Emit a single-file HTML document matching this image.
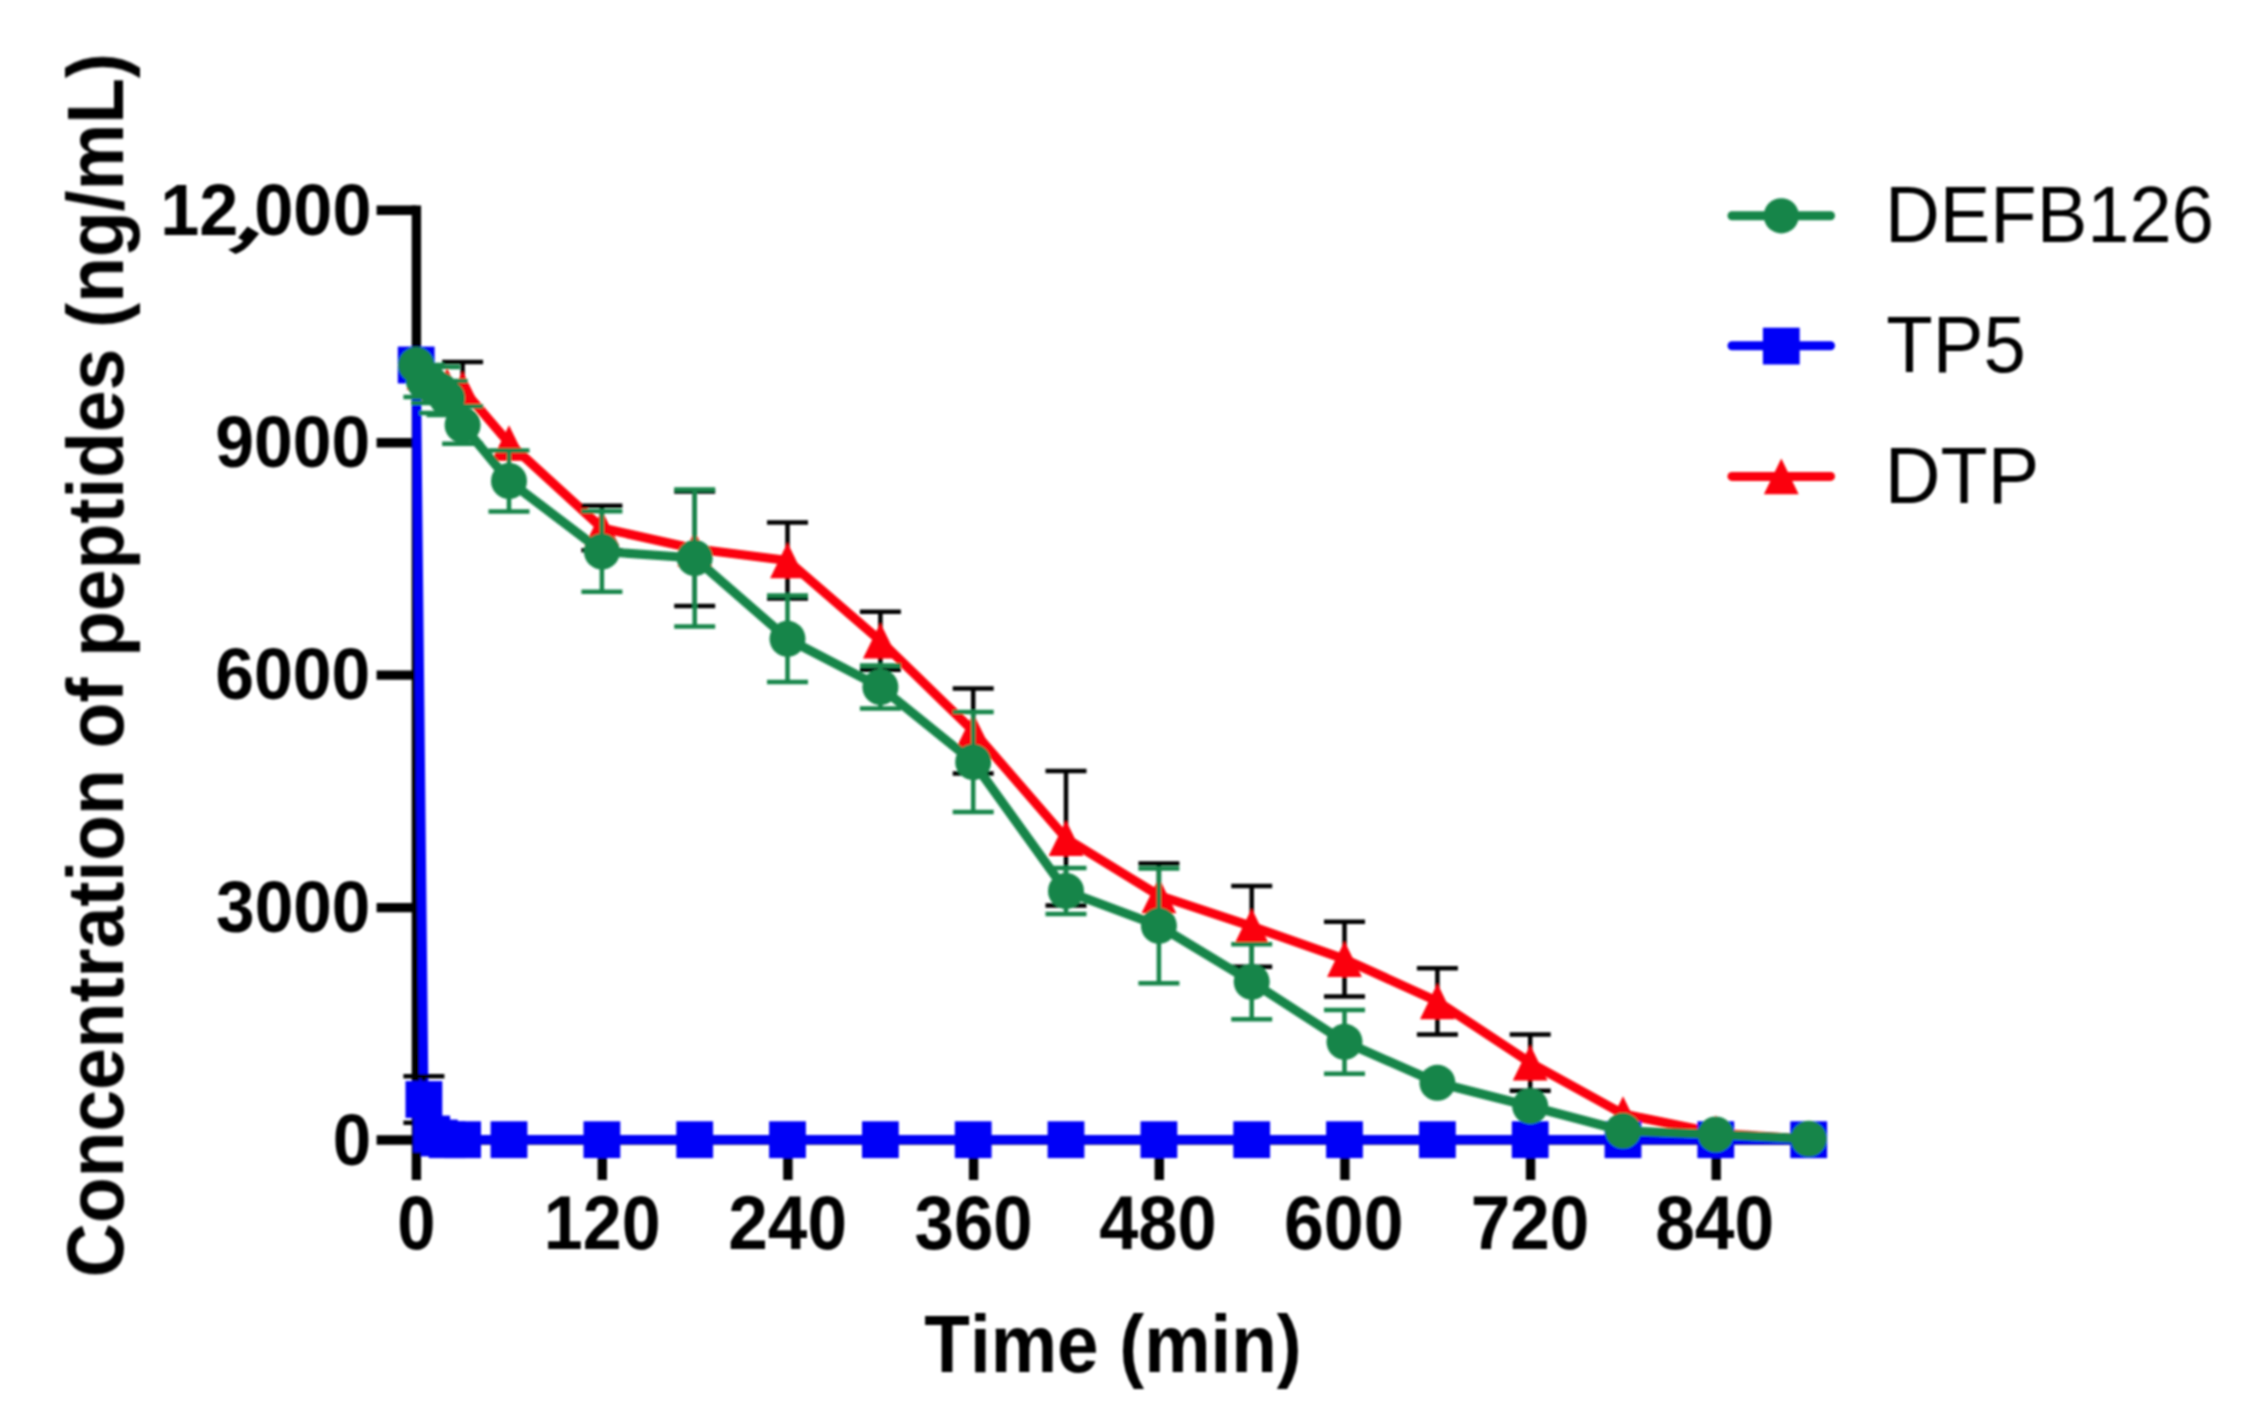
<!DOCTYPE html>
<html lang="en"><head><meta charset="utf-8"><title>Peptide concentration over time</title>
<style>html,body{margin:0;padding:0;background:#fff}body{width:2248px;height:1413px;overflow:hidden}svg{display:block}</style>
</head><body>
<svg width="2248" height="1413" viewBox="0 0 2248 1413" font-family="'Liberation Sans', Arial, sans-serif" style="font-kerning:none">
<rect width="2248" height="1413" fill="#fff"/>
<g filter="url(#soft)">
<g stroke="#000" stroke-width="9.4" fill="none">
<path d="M416.4 205.6V1180"/>
<path d="M411.7 1140.0H1808.7"/>
<path d="M376.6 1140.0H416.4"/>
<path d="M376.6 907.6H416.4"/>
<path d="M376.6 675.1H416.4"/>
<path d="M376.6 442.7H416.4"/>
<path d="M376.6 210.3H416.4"/>
<path d="M602.3 1139.7V1180"/>
<path d="M787.9 1139.7V1180"/>
<path d="M973.6 1139.7V1180"/>
<path d="M1159.3 1139.7V1180"/>
<path d="M1344.9 1139.7V1180"/>
<path d="M1530.6 1139.7V1180"/>
<path d="M1716.2 1139.7V1180"/>
</g>
<g fill="#000">
<text transform="translate(160.17,234.59) scale(0.70304,0.72881)" font-size="100" font-weight="bold">12<tspan font-size="135" font-style="italic" rotate="30" dx="-3" dy="3">,</tspan><tspan rotate="0" dx="-12" dy="-3">000</tspan></text>
<text transform="translate(215.28,467.49) scale(0.69709,0.72457)" font-size="100" font-weight="bold">9000</text>
<text transform="translate(215.14,699.49) scale(0.69773,0.72457)" font-size="100" font-weight="bold">6000</text>
<text transform="translate(216.11,931.99) scale(0.69331,0.72457)" font-size="100" font-weight="bold">3000</text>
<text transform="translate(332.86,1164.79) scale(0.69178,0.72881)" font-size="100" font-weight="bold">0</text>
<text transform="translate(397.28,1249.36) scale(0.68757,0.75282)" font-size="100" font-weight="bold">0</text>
<text transform="translate(543.79,1249.36) scale(0.69993,0.75282)" font-size="100" font-weight="bold">120</text>
<text transform="translate(728.23,1249.36) scale(0.71197,0.75282)" font-size="100" font-weight="bold">240</text>
<text transform="translate(914.58,1249.36) scale(0.70677,0.75282)" font-size="100" font-weight="bold">360</text>
<text transform="translate(1099.23,1249.36) scale(0.70396,0.75282)" font-size="100" font-weight="bold">480</text>
<text transform="translate(1284.08,1249.36) scale(0.71535,0.75282)" font-size="100" font-weight="bold">600</text>
<text transform="translate(1470.85,1249.36) scale(0.71002,0.75282)" font-size="100" font-weight="bold">720</text>
<text transform="translate(1655.14,1249.36) scale(0.71317,0.75282)" font-size="100" font-weight="bold">840</text>
<text transform="translate(924.36,1371.60) scale(0.74640,0.81542)" font-size="100" font-weight="bold">Time (min)</text>
<text transform="rotate(-90) translate(-1277.38,122.90) scale(0.74974,0.80089)" font-size="100" font-weight="bold">Concentration of peptides (ng/mL)</text>
<text transform="translate(1884.98,242.00) scale(0.75876,0.79943)" font-size="100" font-weight="normal">DEFB126</text>
<text transform="translate(1886.29,372.10) scale(0.76065,0.80379)" font-size="100" font-weight="normal">TP5</text>
<text transform="translate(1884.87,502.50) scale(0.77202,0.79071)" font-size="100" font-weight="normal">DTP</text>
</g>
<polyline points="416.2,365.0 423.9,372.0 431.7,378.0 439.4,383.0 447.1,386.0 462.6,389.0 509.0,443.0 601.9,528.0 694.7,548.8 787.5,560.5 880.4,640.7 973.2,731.0 1066.0,838.3 1158.9,895.5 1251.7,926.4 1344.5,959.1 1437.4,1001.4 1530.2,1062.7 1623.0,1114.0 1715.8,1133.0 1808.7,1139.3" stroke="#fb0308" stroke-width="9.2" fill="none" stroke-linejoin="round"/>
<path d="M462.6 362.0V389.0M442.1 362.0H483.1M601.9 505.7V550.3M581.4 505.7H622.4M581.4 550.3H622.4M694.7 491.5V606.1M674.2 491.5H715.2M674.2 606.1H715.2M787.5 522.5V598.5M767.0 522.5H808.0M767.0 598.5H808.0M880.4 611.7V669.7M859.9 611.7H900.9M859.9 669.7H900.9M973.2 688.4V773.6M952.7 688.4H993.7M952.7 773.6H993.7M1066.0 771.1V905.5M1045.5 771.1H1086.5M1045.5 905.5H1086.5M1158.9 863.5V895.5M1138.4 863.5H1179.4M1251.7 886.0V966.8M1231.2 886.0H1272.2M1231.2 966.8H1272.2M1344.5 921.8V996.4M1324.0 921.8H1365.0M1324.0 996.4H1365.0M1437.4 968.2V1034.6M1416.9 968.2H1457.9M1416.9 1034.6H1457.9M1530.2 1034.6V1090.8M1509.7 1034.6H1550.7M1509.7 1090.8H1550.7" stroke="#000" stroke-width="4.5" fill="none"/>
<path d="M416.2 347.2L433.6 382.8H398.8Z" fill="#fb0308"/>
<path d="M423.9 354.2L441.3 389.8H406.5Z" fill="#fb0308"/>
<path d="M431.7 360.2L449.1 395.8H414.3Z" fill="#fb0308"/>
<path d="M439.4 365.2L456.8 400.8H422.0Z" fill="#fb0308"/>
<path d="M447.1 368.2L464.5 403.8H429.7Z" fill="#fb0308"/>
<path d="M462.6 371.2L480.0 406.8H445.2Z" fill="#fb0308"/>
<path d="M509.0 425.2L526.4 460.8H491.6Z" fill="#fb0308"/>
<path d="M601.9 510.2L619.3 545.8H584.5Z" fill="#fb0308"/>
<path d="M694.7 531.0L712.1 566.6H677.3Z" fill="#fb0308"/>
<path d="M787.5 542.7L804.9 578.3H770.1Z" fill="#fb0308"/>
<path d="M880.4 622.9L897.8 658.5H863.0Z" fill="#fb0308"/>
<path d="M973.2 713.2L990.6 748.8H955.8Z" fill="#fb0308"/>
<path d="M1066.0 820.5L1083.4 856.1H1048.6Z" fill="#fb0308"/>
<path d="M1158.9 877.7L1176.3 913.3H1141.5Z" fill="#fb0308"/>
<path d="M1251.7 908.6L1269.1 944.2H1234.3Z" fill="#fb0308"/>
<path d="M1344.5 941.3L1361.9 976.9H1327.1Z" fill="#fb0308"/>
<path d="M1437.4 983.6L1454.8 1019.2H1420.0Z" fill="#fb0308"/>
<path d="M1530.2 1044.9L1547.6 1080.5H1512.8Z" fill="#fb0308"/>
<path d="M1623.0 1096.2L1640.4 1131.8H1605.6Z" fill="#fb0308"/>
<path d="M1715.8 1115.2L1733.2 1150.8H1698.4Z" fill="#fb0308"/>
<path d="M1808.7 1121.5L1826.1 1157.1H1791.3Z" fill="#fb0308"/>
<polyline points="416.2,365.0 423.9,1099.5 431.7,1134.0 439.4,1138.0 447.1,1139.7 462.6,1139.7 509.0,1139.7 601.9,1139.7 694.7,1139.7 787.5,1139.7 880.4,1139.7 973.2,1139.7 1066.0,1139.7 1158.9,1139.7 1251.7,1139.7 1344.5,1139.7 1437.4,1139.7 1530.2,1139.7 1623.0,1139.7 1715.8,1139.7 1808.7,1139.7" stroke="#0600f7" stroke-width="9.2" fill="none" stroke-linejoin="round"/>
<path d="M423.9 1076.2V1122.8M403.4 1076.2H444.4M403.4 1122.8H444.4" stroke="#000" stroke-width="4.5" fill="none"/>
<rect x="397.8" y="346.6" width="36.8" height="36.8" fill="#0600f7"/>
<rect x="405.5" y="1081.1" width="36.8" height="36.8" fill="#0600f7"/>
<rect x="413.3" y="1115.6" width="36.8" height="36.8" fill="#0600f7"/>
<rect x="421.0" y="1119.6" width="36.8" height="36.8" fill="#0600f7"/>
<rect x="428.7" y="1121.3" width="36.8" height="36.8" fill="#0600f7"/>
<rect x="444.2" y="1121.3" width="36.8" height="36.8" fill="#0600f7"/>
<rect x="490.6" y="1121.3" width="36.8" height="36.8" fill="#0600f7"/>
<rect x="583.5" y="1121.3" width="36.8" height="36.8" fill="#0600f7"/>
<rect x="676.3" y="1121.3" width="36.8" height="36.8" fill="#0600f7"/>
<rect x="769.1" y="1121.3" width="36.8" height="36.8" fill="#0600f7"/>
<rect x="862.0" y="1121.3" width="36.8" height="36.8" fill="#0600f7"/>
<rect x="954.8" y="1121.3" width="36.8" height="36.8" fill="#0600f7"/>
<rect x="1047.6" y="1121.3" width="36.8" height="36.8" fill="#0600f7"/>
<rect x="1140.5" y="1121.3" width="36.8" height="36.8" fill="#0600f7"/>
<rect x="1233.3" y="1121.3" width="36.8" height="36.8" fill="#0600f7"/>
<rect x="1326.1" y="1121.3" width="36.8" height="36.8" fill="#0600f7"/>
<rect x="1419.0" y="1121.3" width="36.8" height="36.8" fill="#0600f7"/>
<rect x="1511.8" y="1121.3" width="36.8" height="36.8" fill="#0600f7"/>
<rect x="1604.6" y="1121.3" width="36.8" height="36.8" fill="#0600f7"/>
<rect x="1697.4" y="1121.3" width="36.8" height="36.8" fill="#0600f7"/>
<rect x="1790.3" y="1121.3" width="36.8" height="36.8" fill="#0600f7"/>
<polyline points="416.2,365.0 423.9,381.0 431.7,385.0 439.4,390.0 447.1,398.0 462.6,425.0 509.0,481.0 601.9,551.5 694.7,558.0 787.5,638.8 880.4,687.0 973.2,762.0 1066.0,891.0 1158.9,925.8 1251.7,981.8 1344.5,1041.8 1437.4,1082.8 1530.2,1106.2 1623.0,1130.8 1715.8,1134.5 1808.7,1138.8" stroke="#17854a" stroke-width="9.2" fill="none" stroke-linejoin="round"/>
<path d="M423.9 365.0V397.0M403.4 365.0H444.4M403.4 397.0H444.4M431.7 367.0V403.0M411.2 367.0H452.2M411.2 403.0H452.2M439.4 367.0V413.0M418.9 367.0H459.9M418.9 413.0H459.9M447.1 381.0V415.0M426.6 381.0H467.6M426.6 415.0H467.6M462.6 406.2V443.8M442.1 406.2H483.1M442.1 443.8H483.1M509.0 450.5V511.5M488.5 450.5H529.5M488.5 511.5H529.5M601.9 511.2V591.8M581.4 511.2H622.4M581.4 591.8H622.4M694.7 489.5V626.5M674.2 489.5H715.2M674.2 626.5H715.2M787.5 595.5V682.1M767.0 595.5H808.0M767.0 682.1H808.0M880.4 665.5V708.5M859.9 665.5H900.9M859.9 708.5H900.9M973.2 712.0V812.0M952.7 712.0H993.7M952.7 812.0H993.7M1066.0 867.9V914.1M1045.5 867.9H1086.5M1045.5 914.1H1086.5M1158.9 868.4V983.2M1138.4 868.4H1179.4M1138.4 983.2H1179.4M1251.7 944.3V1019.3M1231.2 944.3H1272.2M1231.2 1019.3H1272.2M1344.5 1009.9V1073.7M1324.0 1009.9H1365.0M1324.0 1073.7H1365.0" stroke="#17854a" stroke-width="4.5" fill="none"/>
<circle cx="416.2" cy="365.0" r="18" fill="#17854a"/>
<circle cx="423.9" cy="381.0" r="18" fill="#17854a"/>
<circle cx="431.7" cy="385.0" r="18" fill="#17854a"/>
<circle cx="439.4" cy="390.0" r="18" fill="#17854a"/>
<circle cx="447.1" cy="398.0" r="18" fill="#17854a"/>
<circle cx="462.6" cy="425.0" r="18" fill="#17854a"/>
<circle cx="509.0" cy="481.0" r="18" fill="#17854a"/>
<circle cx="601.9" cy="551.5" r="18" fill="#17854a"/>
<circle cx="694.7" cy="558.0" r="18" fill="#17854a"/>
<circle cx="787.5" cy="638.8" r="18" fill="#17854a"/>
<circle cx="880.4" cy="687.0" r="18" fill="#17854a"/>
<circle cx="973.2" cy="762.0" r="18" fill="#17854a"/>
<circle cx="1066.0" cy="891.0" r="18" fill="#17854a"/>
<circle cx="1158.9" cy="925.8" r="18" fill="#17854a"/>
<circle cx="1251.7" cy="981.8" r="18" fill="#17854a"/>
<circle cx="1344.5" cy="1041.8" r="18" fill="#17854a"/>
<circle cx="1437.4" cy="1082.8" r="18" fill="#17854a"/>
<circle cx="1530.2" cy="1106.2" r="18" fill="#17854a"/>
<circle cx="1623.0" cy="1130.8" r="18" fill="#17854a"/>
<circle cx="1715.8" cy="1134.5" r="18" fill="#17854a"/>
<circle cx="1808.7" cy="1138.8" r="18" fill="#17854a"/>
<path d="M1732 215.8H1830.5" stroke="#17854a" stroke-width="9" stroke-linecap="round"/>
<circle cx="1781.3" cy="215.8" r="17.6" fill="#17854a"/>
<path d="M1732 345.8H1830.5" stroke="#0600f7" stroke-width="9" stroke-linecap="round"/>
<rect x="1762.9" y="327.7" width="36.8" height="36.8" fill="#0600f7"/>
<path d="M1732 476.4H1830.5" stroke="#fb0308" stroke-width="9" stroke-linecap="round"/>
<path d="M1781.3 458.6L1798.7 494.2H1763.9Z" fill="#fb0308"/>
</g>
<defs><filter id="soft" x="0" y="0" width="100%" height="100%" filterUnits="userSpaceOnUse"><feGaussianBlur stdDeviation="1.2"/></filter></defs>
</svg>
</body></html>
